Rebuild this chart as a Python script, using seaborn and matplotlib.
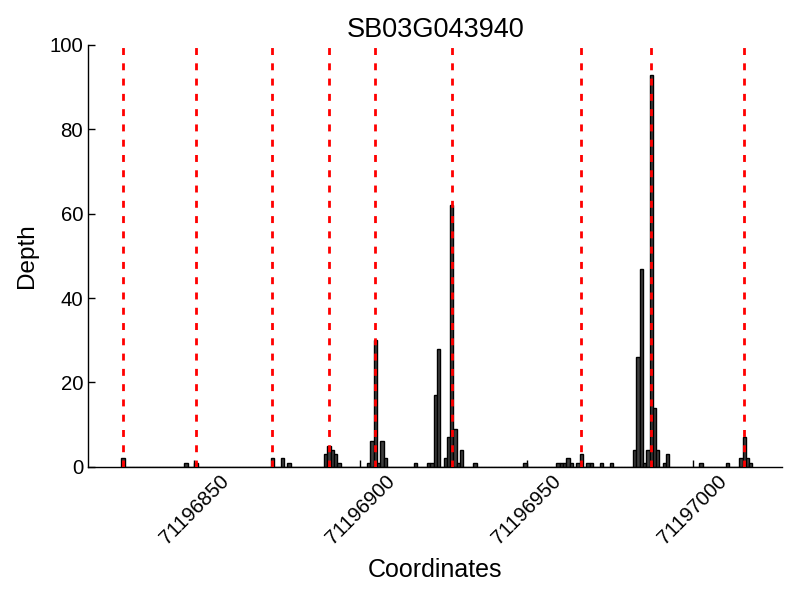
import numpy as np
import pandas as pd
import matplotlib
matplotlib.use('Agg')
import matplotlib.pyplot as plt
import seaborn as sns

# read-depth per genomic coordinate (only non-zero positions)
positions = [71196828, 71196847, 71196850, 71196873, 71196876, 71196878,
             71196889, 71196890, 71196891, 71196892, 71196893,
             71196902, 71196903, 71196904, 71196905, 71196906, 71196907,
             71196916,
             71196920, 71196921, 71196922, 71196923, 71196925, 71196926,
             71196927, 71196928, 71196929, 71196930,
             71196934, 71196949,
             71196959, 71196960, 71196961, 71196962, 71196963, 71196965,
             71196966, 71196968, 71196969, 71196972, 71196975,
             71196982, 71196983, 71196984, 71196985, 71196986, 71196987,
             71196988, 71196989, 71196991, 71196992,
             71197002, 71197010, 71197014, 71197015, 71197016, 71197017]
depths = [2, 1, 1, 2, 2, 1,
          3, 5, 4, 3, 1,
          1, 6, 30, 1, 6, 2,
          1,
          1, 1, 17, 28, 2, 7,
          62, 9, 1, 4,
          1, 1,
          1, 1, 1, 2, 1, 1,
          3, 1, 1, 1, 1,
          4, 26, 47, 1, 4, 93,
          14, 4, 1, 3,
          1, 1, 2, 7, 2, 1]

# marked sites (red dashed lines)
marked_sites = [71196828, 71196850, 71196873, 71196890, 71196904,
                71196927, 71196966, 71196987, 71197015]

x_ticks = [71196850, 71196900, 71196950, 71197000]
gene_name = 'SB03G043940'

df = pd.DataFrame({'pos': positions, 'depth': depths})

sns.set_style('ticks', {'xtick.direction': 'in', 'ytick.direction': 'in'})
plt.rcParams['font.family'] = ['Liberation Sans', 'DejaVu Sans']
plt.rcParams['text.color'] = 'black'
plt.rcParams['axes.labelcolor'] = 'black'
plt.rcParams['xtick.color'] = 'black'
plt.rcParams['ytick.color'] = 'black'

fig, ax = plt.subplots(figsize=(8, 6), dpi=100)
fig.subplots_adjust(left=0.11, right=0.978, bottom=0.222, top=0.925)

start, end = min(positions), max(positions) + 1
sns.histplot(data=df, x='pos', weights='depth', binwidth=1,
             binrange=(start, end), color='#3f3f3f', edgecolor='black',
             linewidth=1, alpha=1, ax=ax)

ax.vlines(np.array(marked_sites) + 0.5, 0, 100, colors='red',
          linestyles=(0, (2.5, 3)), linewidth=2, zorder=5)

ax.set_xlim(start - 10, end + 9)
ax.set_ylim(0, 100)
ax.set_xticks(x_ticks)
ax.set_xticklabels([str(t) for t in x_ticks], rotation=45)
ax.set_yticks([0, 20, 40, 60, 80, 100])
ax.tick_params(labelsize=14.7, length=5, width=1, colors='black')
ax.set_xlabel('Coordinates', fontsize=18, labelpad=7)
ax.set_ylabel('Depth', fontsize=17.5, labelpad=8)
ax.set_title(gene_name, fontsize=19.5)
sns.despine(ax=ax)
for s in ['left', 'bottom']:
    ax.spines[s].set_color('black')
    ax.spines[s].set_linewidth(1)

fig.savefig('out.png', dpi=100, facecolor='white')
